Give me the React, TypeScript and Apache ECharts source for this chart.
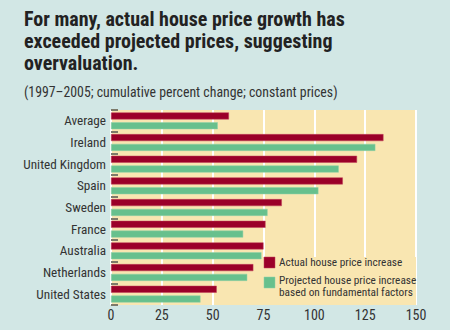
import React, { useEffect, useRef } from "react";
import * as echarts from "echarts";

const categories = ["Average", "Ireland", "United Kingdom", "Spain", "Sweden", "France", "Australia", "Netherlands", "United States"];
const actualIncrease = [58, 134, 121, 114, 84, 76, 75, 70, 52];
const projectedIncrease = [52.5, 130, 112, 102, 77, 65, 74, 67, 44];
const xTicks = { min: 0, max: 150, interval: 25 };

const FONT = "'Roboto Condensed', 'Liberation Sans', sans-serif";
const RED = "#9b0029";
const GREEN = "#67c08d";
const TEXT = "#333333";
const PLOT_BG = "#f9e6b1";

export default function App() {
  const ref = useRef<HTMLDivElement>(null);
  useEffect(() => {
    const chart = echarts.init(ref.current!, null, { renderer: "svg" });
    chart.setOption({
      animation: false,
      backgroundColor: "#d2e7e5",
      textStyle: { fontFamily: FONT },
      title: [
        {
          text: "For many, actual house price growth has\nexceeded projected prices, suggesting\novervaluation.",
          left: 24,
          top: 8,
          padding: 0,
          textStyle: { fontFamily: FONT, fontSize: 20, fontWeight: "bold", lineHeight: 22, color: "#222" },
        },
        {
          text: "(1997–2005; cumulative percent change; constant prices)",
          left: 24,
          top: 85,
          padding: 0,
          textStyle: { fontFamily: FONT, fontSize: 13.8, fontWeight: "normal", color: TEXT },
        },
      ],
      grid: {
        left: 111,
        right: 34,
        top: 110,
        bottom: 25,
        show: true,
        backgroundColor: PLOT_BG,
        borderWidth: 0,
        containLabel: false,
      },
      xAxis: {
        type: "value",
        min: xTicks.min,
        max: xTicks.max,
        interval: xTicks.interval,
        axisLine: { show: false },
        axisTick: { show: false },
        splitLine: { show: true, lineStyle: { color: "#ffffff", width: 2 } },
        axisLabel: { fontFamily: FONT, fontSize: 14, fontWeight: "normal", color: TEXT, margin: 3 },
      },
      yAxis: {
        type: "category",
        data: categories,
        inverse: true,
        axisLine: { show: false },
        axisTick: { show: true, inside: true, length: 7, lineStyle: { color: "#7d7a6a", width: 2 } },
        axisLabel: { fontFamily: FONT, fontSize: 13.2, fontWeight: "normal", color: TEXT, margin: 5 },
      },
      legend: { show: false },
      series: [
        {
          name: "Actual house price increase",
          type: "bar",
          z: 3,
          data: actualIncrease,
          barWidth: 7,
          barGap: "40%",
          itemStyle: { color: RED, borderColor: "#c0405a", borderWidth: 0.5 },
        },
        {
          name: "Projected house price increase based on fundamental factors",
          type: "bar",
          z: 3,
          data: projectedIncrease,
          barWidth: 7,
          barGap: "40%",
          itemStyle: { color: GREEN, borderColor: "#8fd0a8", borderWidth: 0.5 },
        },
      ],
      graphic: [
        { type: "rect", z: 1, shape: { x: 259, y: 257, width: 157, height: 48 }, style: { fill: PLOT_BG } },
        { type: "rect", z: 5, shape: { x: 264, y: 257, width: 11, height: 11 }, style: { fill: RED, stroke: "#c0405a", lineWidth: 0.5 } },
        { type: "text", z: 5, x: 279, y: 262, style: { text: "Actual house price increase", fontFamily: FONT, fontSize: 11.3, fill: TEXT, verticalAlign: "middle" } },
        { type: "rect", z: 5, shape: { x: 264, y: 277, width: 11, height: 11 }, style: { fill: GREEN, stroke: "#8fd0a8", lineWidth: 0.5 } },
        { type: "text", z: 5, x: 279, y: 280, style: { text: "Projected house price increase", fontFamily: FONT, fontSize: 11.3, fill: TEXT, verticalAlign: "middle" } },
        { type: "text", z: 5, x: 279, y: 292, style: { text: "based on fundamental factors", fontFamily: FONT, fontSize: 11.3, fill: TEXT, verticalAlign: "middle" } },
      ],
    });
    return () => chart.dispose();
  }, []);
  return <div ref={ref} style={{ position: "fixed", left: 0, top: 0, width: 450, height: 330 }} />;
}
